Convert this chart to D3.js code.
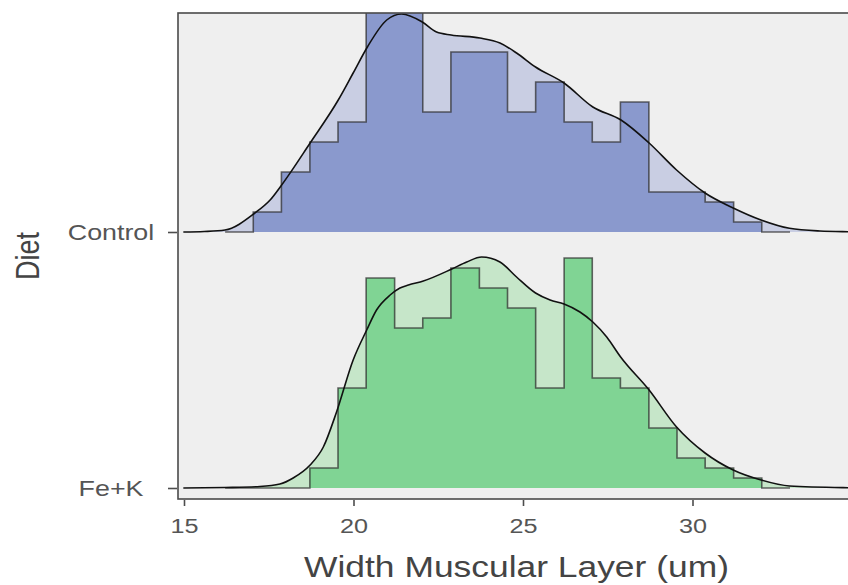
<!DOCTYPE html>
<html>
<head>
<meta charset="utf-8">
<script src="https://cdn.jsdelivr.net/npm/d3@7"></script>
<style>
  html, body { margin: 0; padding: 0; background: #fff; }
  svg { display: block; font-family: "Liberation Sans", Arial, sans-serif; }
</style>
</head>
<body>
<div id="chart"></div>
<script>
// ---- data ----
const groups = ['Fe+K', 'Control'];          // bottom to top
const xTicks = [15, 20, 25, 30];

// shared histogram bins (centres, width in um)
const binCenters = [16.63, 17.46, 18.29, 19.13, 19.96, 20.79, 21.63, 22.46, 23.29, 24.13,
                    24.96, 25.79, 26.63, 27.46, 28.29, 29.13, 29.96, 30.79, 31.63, 32.46];
const binWidth = 0.8333;

const controlCounts = [0, 2, 6, 9, 11, 25, 24, 12, 18, 18, 12, 15, 11, 9, 13, 4, 4, 3, 1, 0];
const feKCounts     = [0, 0, 0, 2, 10, 21, 16, 17, 22, 20, 18, 10, 23, 11, 10, 6, 3, 2, 1, 0];

// density ridges (x in um, height in the same units as counts)
const controlDensX = [14.98, 15.6, 16.21, 17.09, 17.54, 17.88, 18.72, 19.55, 19.99, 20.41, 20.98, 21.42,
                      22.03, 22.45, 22.88, 23.73, 24.32, 24.81, 25.37, 26.21, 27.06, 27.89, 28.72,
                      29.53, 30.37, 31.20, 32.02, 32.86, 33.76, 34.59, 35.4];
const controlDensH = [0.0, 0.05, 0.2, 1.9, 3.2, 4.7, 8.9, 13.2, 15.9, 18.5, 21.2, 21.8,
                      21.0, 20.0, 19.7, 19.4, 18.9, 17.9, 16.5, 14.9, 12.5, 11.2, 8.9,
                      6.2, 3.9, 2.4, 1.2, 0.37, 0.1, 0.03, 0.0];

const feKDensX = [14.98, 16.21, 17.24, 17.83, 18.22, 18.72, 19.11, 19.50, 19.99, 20.39, 20.68, 21.08,
                  21.37, 21.62, 22.06, 22.90, 23.34, 23.78, 24.32, 24.81, 25.37, 25.80, 26.21, 26.68,
                  27.06, 27.47, 27.88, 28.72, 29.53, 30.37, 31.20, 32.02, 32.86, 34.59, 35.4];
const feKDensH = [0.0, 0.05, 0.15, 0.4, 1.0, 2.3, 4.1, 7.6, 12.8, 15.8, 17.8, 19.3,
                  20.0, 20.3, 20.7, 21.9, 22.6, 23.1, 22.6, 21.1, 19.5, 18.8, 18.4, 17.6,
                  16.6, 15.1, 13.1, 9.8, 6.1, 3.5, 1.8, 0.8, 0.2, 0.03, 0.0];

// ---- layout ----
const W = 848, H = 585;
const panel = { left: 178, top: 13, right: 864, bottom: 499 };
const textStretch = 1.2;

const x = d3.scaleLinear().domain([15, 30]).range([184, 692.5]);
const y = d3.scaleLinear().domain([1, 2]).range([488, 232]);
const countToRidge = d3.scaleLinear().domain([0, 25.6]).range([0, 1]);

const svg = d3.select('#chart').append('svg')
    .attr('width', W)
    .attr('height', H);

svg.append('defs').append('clipPath')
    .attr('id', 'panel-clip')
    .append('rect')
    .attr('x', panel.left)
    .attr('y', panel.top)
    .attr('width', panel.right - panel.left)
    .attr('height', panel.bottom - panel.top);

// Panel background
svg.append('rect')
    .attr('x', panel.left)
    .attr('y', panel.top)
    .attr('width', panel.right - panel.left)
    .attr('height', panel.bottom - panel.top)
    .attr('fill', '#efefef');

const plot = svg.append('g').attr('clip-path', 'url(#panel-clip)');

const series = [
    { name: 'Control', counts: controlCounts, densX: controlDensX, densH: controlDensH,
      dark: '#8a99cd', light: '#c9cee3' },
    { name: 'Fe+K', counts: feKCounts, densX: feKDensX, densH: feKDensH,
      dark: '#80d494', light: '#c6e6c9' }
];

series.forEach(s => {
    const base = groups.indexOf(s.name) + 1;
    const g = plot.append('g').attr('class', 'ridge');

    // density fill (light)
    const dens = s.densX.map((v, i) => ({ x: v, h: s.densH[i] }));
    const densArea = d3.area()
        .x(d => x(d.x))
        .y0(y(base))
        .y1(d => y(base + countToRidge(d.h)))
        .curve(d3.curveMonotoneX);
    g.append('path')
        .datum(dens)
        .attr('d', densArea)
        .attr('fill', s.light);

    // histogram as a stepped area
    const steps = s.counts.map((c, i) => ({ x: binCenters[i] - binWidth / 2, c }));
    const last = s.counts.length - 1;
    steps.push({ x: binCenters[last] + binWidth / 2, c: s.counts[last] });

    const histArea = d3.area()
        .x(d => x(d.x))
        .y0(y(base))
        .y1(d => y(base + countToRidge(d.c)))
        .curve(d3.curveStepAfter);
    g.append('path')
        .datum(steps)
        .attr('d', histArea)
        .attr('fill', s.dark);

    const outlinePts = [{ x: steps[0].x, c: 0 }, ...steps, { x: steps[steps.length - 1].x, c: 0 }];
    const stepLine = d3.line()
        .x(d => x(d.x))
        .y(d => y(base + countToRidge(d.c)))
        .curve(d3.curveStepAfter);
    g.append('path')
        .datum(outlinePts)
        .attr('d', stepLine)
        .attr('fill', 'none')
        .attr('stroke', 'rgba(45,45,45,0.72)')
        .attr('stroke-width', 1.6);

    // density line on top
    const densLine = d3.line()
        .x(d => x(d.x))
        .y(d => y(base + countToRidge(d.h)))
        .curve(d3.curveMonotoneX);
    g.append('path')
        .datum(dens)
        .attr('d', densLine)
        .attr('fill', 'none')
        .attr('stroke', '#111')
        .attr('stroke-width', 1.6);
});

// Panel border
svg.append('rect')
    .attr('x', panel.left)
    .attr('y', panel.top)
    .attr('width', panel.right - panel.left)
    .attr('height', panel.bottom - panel.top)
    .attr('fill', 'none')
    .attr('stroke', '#4a4a4a')
    .attr('stroke-width', 1.6);

// X axis
const xAxisY = panel.bottom + 1;
const xAxis = svg.append('g')
    .attr('class', 'x-axis')
    .attr('transform', `translate(0,${xAxisY})`)
    .call(d3.axisBottom(x).tickValues(xTicks).tickSize(6).tickFormat(d3.format('d')));
xAxis.select('.domain').remove();
xAxis.selectAll('.tick line').attr('stroke', '#4d4d4d').attr('stroke-width', 1.6);
xAxis.selectAll('.tick text')
    .attr('y', 533 - xAxisY)
    .attr('dy', null)
    .attr('fill', '#555')
    .attr('font-size', '21px')
    .attr('font-family', '"Liberation Sans", Arial, sans-serif')
    .attr('transform', `scale(${textStretch},1)`);

// Y axis (labels centred, as in the picture)
const yAxisX = panel.left - 1;
const yAxis = svg.append('g')
    .attr('class', 'y-axis')
    .attr('transform', `translate(${yAxisX},0)`)
    .call(d3.axisLeft(y).tickValues([1, 2]).tickSize(9).tickFormat(d => groups[d - 1]));
yAxis.select('.domain').remove();
yAxis.selectAll('.tick line').attr('stroke', '#4d4d4d').attr('stroke-width', 1.6);
yAxis.selectAll('.tick text')
    .attr('text-anchor', 'middle')
    .attr('x', (111 - yAxisX) / 1.22)
    .attr('dy', '0.36em')
    .attr('fill', '#555')
    .attr('font-size', '22px')
    .attr('font-family', '"Liberation Sans", Arial, sans-serif')
    .attr('transform', 'scale(1.22,1)');

// Axis titles
svg.append('text')
    .attr('transform', `translate(516.5,576.5) scale(${textStretch},1)`)
    .attr('text-anchor', 'middle')
    .attr('fill', '#444')
    .attr('font-size', '29.5px')
    .text('Width Muscular Layer (um)');

svg.append('text')
    .attr('transform', 'translate(27,256) scale(1.2,1) rotate(-90)')
    .attr('text-anchor', 'middle')
    .attr('dy', '0.36em')
    .attr('fill', '#444')
    .attr('font-size', '27px')
    .text('Diet');
</script>
</body>
</html>
